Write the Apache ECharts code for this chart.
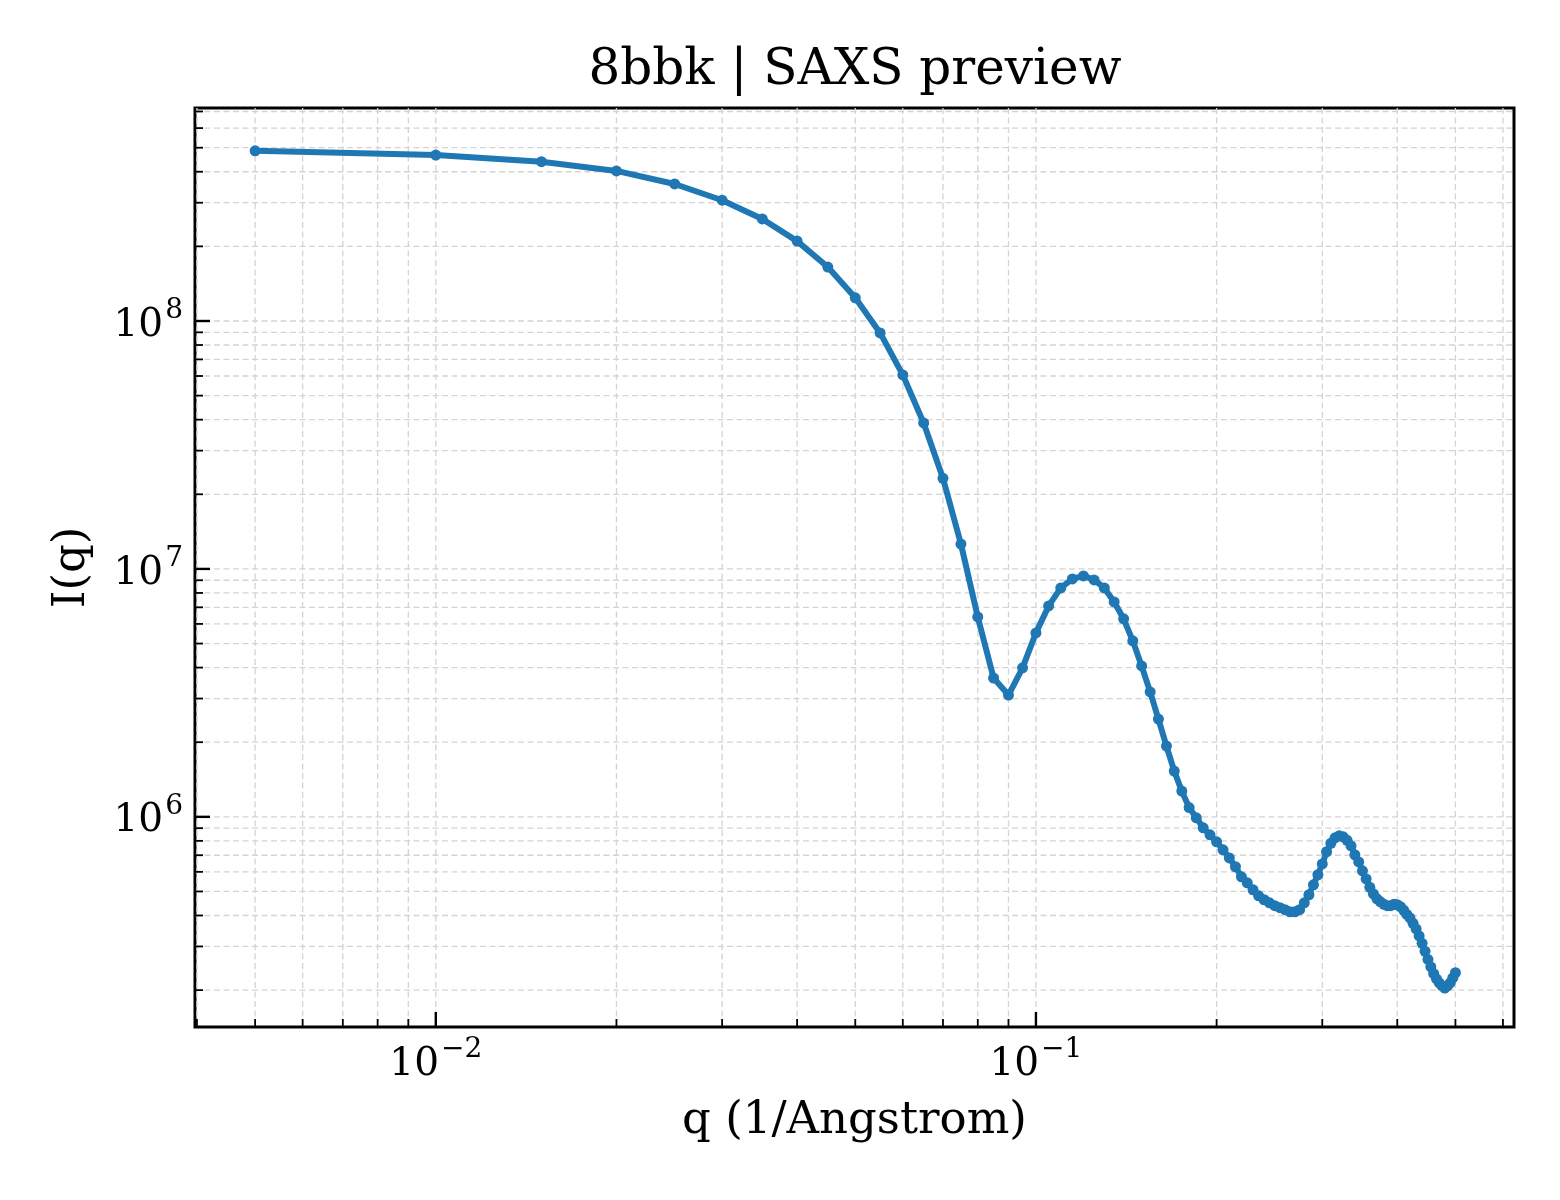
<!DOCTYPE html>
<html>
<head>
<meta charset="utf-8">
<script src="https://cdn.jsdelivr.net/npm/echarts@6/dist/echarts.min.js"></script>
<style>
html,body{margin:0;padding:0;background:#fff;}
#chart{width:1560px;height:1200px;}
</style>
</head>
<body>
<div id="chart"></div>
<script>
// q values (1/Angstrom)
const Q = [0.005,0.01,0.015,0.02,0.025,0.03,0.035,0.04,0.045,0.05,
0.055,0.06,0.065,0.07,0.075,0.08,0.085,0.09,0.095,0.1,
0.105,0.11,0.115,0.12,0.125,0.13,0.135,0.14,0.145,0.15,
0.155,0.16,0.165,0.17,0.175,0.18,0.185,0.19,0.195,0.2,
0.205,0.21,0.215,0.22,0.225,0.23,0.235,0.24,0.245,0.25,
0.255,0.26,0.265,0.27,0.275,0.28,0.285,0.29,0.295,0.3,
0.305,0.31,0.315,0.32,0.325,0.33,0.335,0.34,0.345,0.35,
0.355,0.36,0.365,0.37,0.375,0.38,0.385,0.39,0.395,0.4,
0.405,0.41,0.415,0.42,0.425,0.43,0.435,0.44,0.445,0.45,
0.455,0.46,0.465,0.47,0.475,0.48,0.485,0.49,0.495,0.5];
// I(q) values
const I_VALUES = [4.86e8,4.67e8,4.39e8,4.03e8,3.57e8,3.07e8,2.58e8,2.10e8,1.65e8,1.24e8,
8.95e7,6.06e7,3.88e7,2.32e7,1.26e7,6.40e6,3.63e6,3.10e6,3.99e6,5.52e6,
7.09e6,8.38e6,9.11e6,9.37e6,9.03e6,8.38e6,7.36e6,6.29e6,5.13e6,4.06e6,
3.19e6,2.48e6,1.93e6,1.53e6,1.27e6,1.09e6,9.91e5,9.03e5,8.46e5,7.93e5,
7.36e5,6.83e5,6.29e5,5.73e5,5.42e5,5.08e5,4.80e5,4.63e5,4.50e5,4.38e5,
4.30e5,4.22e5,4.14e5,4.14e5,4.22e5,4.50e5,4.85e5,5.32e5,5.84e5,6.46e5,
7.23e5,7.82e5,8.23e5,8.38e5,8.31e5,8.04e5,7.64e5,7.03e5,6.58e5,6.06e5,
5.62e5,5.20e5,4.89e5,4.67e5,4.54e5,4.44e5,4.38e5,4.38e5,4.44e5,4.42e5,
4.34e5,4.20e5,4.04e5,3.91e5,3.72e5,3.53e5,3.31e5,3.09e5,2.87e5,2.66e5,
2.48e5,2.33e5,2.22e5,2.14e5,2.08e5,2.04e5,2.08e5,2.14e5,2.24e5,2.35e5];

// axis ranges and ticks
const X_MIN = 0.00397, X_MAX = 0.626;
const Y_MIN = 1.42e5, Y_MAX = 7.23e8;
const X_MAJOR = [0.01, 0.1];
const X_MINOR = [0.004,0.005,0.006,0.007,0.008,0.009,
  0.02,0.03,0.04,0.05,0.06,0.07,0.08,0.09,
  0.2,0.3,0.4,0.5,0.6];
const Y_MAJOR = [1e6, 1e7, 1e8];
const Y_MINOR = [2e5,3e5,4e5,5e5,6e5,7e5,8e5,9e5,
  2e6,3e6,4e6,5e6,6e6,7e6,8e6,9e6,
  2e7,3e7,4e7,5e7,6e7,7e7,8e7,9e7,
  2e8,3e8,4e8,5e8,6e8,7e8];

const FONT = 'DejaVu Serif';
const LINE_COLOR = '#1f77b4';
const GRID_COLOR = '#d4d4d4';

const gridItems = [];
X_MINOR.forEach(v => gridItems.push([v, Y_MIN, 0]));
X_MAJOR.forEach(v => gridItems.push([v, Y_MIN, 1]));
Y_MINOR.forEach(v => gridItems.push([X_MIN, v, 2]));
Y_MAJOR.forEach(v => gridItems.push([X_MIN, v, 3]));

function powLabel(v) {
  const e = Math.round(Math.log10(v));
  const s = e < 0 ? '\u2212' + (-e) : String(e);
  return '{b|10}{s|' + s + '}';
}
const richLabel = {
  b: {fontFamily: FONT, fontSize: 39, color: '#000', lineHeight: 48, verticalAlign: 'bottom'},
  s: {fontFamily: FONT, fontSize: 28, color: '#000', lineHeight: 48, verticalAlign: 'top', padding: [0,0,0,2]}
};

const chart = echarts.init(document.getElementById('chart'), null, {renderer: 'canvas'});
chart.setOption({
  animation: false,
  backgroundColor: '#fff',
  title: {
    text: '8bbk | SAXS preview',
    left: 855, top: 46, textAlign: 'center', padding: 0,
    textStyle: {fontFamily: FONT, fontSize: 50, fontWeight: 'normal', color: '#000'}
  },
  grid: {left: 195, right: 46, top: 108, bottom: 173, show: true,
    borderColor: '#000', borderWidth: 3, backgroundColor: 'transparent'},
  xAxis: {
    type: 'log', logBase: 10, min: X_MIN, max: X_MAX,
    name: 'q (1/Angstrom)', nameLocation: 'middle', nameGap: 72,
    nameTextStyle: {fontFamily: FONT, fontSize: 45, color: '#000'},
    axisLine: {show: false},
    axisTick: {show: false},
    splitLine: {show: false},
    axisLabel: {customValues: X_MAJOR, margin: 9, formatter: powLabel, rich: richLabel,
      fontFamily: FONT, fontSize: 39, color: '#000'}
  },
  yAxis: {
    type: 'log', logBase: 10, min: Y_MIN, max: Y_MAX,
    name: 'I(q)', nameLocation: 'middle', nameGap: 100, nameRotate: 90,
    nameTextStyle: {fontFamily: FONT, fontSize: 45, color: '#000'},
    axisLine: {show: false},
    axisTick: {show: false},
    splitLine: {show: false},
    axisLabel: {customValues: Y_MAJOR, margin: 12, formatter: powLabel, rich: richLabel,
      fontFamily: FONT, fontSize: 39, color: '#000'}
  },
  series: [
    {
      type: 'custom',
      silent: true,
      z: 1,
      clip: false,
      data: gridItems,
      encode: {x: 0, y: 1},
      renderItem: function (params, api) {
        const cs = params.coordSys;
        const kind = api.value(2);
        const children = [];
        if (kind < 2) {
          const px = api.coord([api.value(0), Y_MIN])[0];
          const b = cs.y + cs.height;
          children.push({type: 'line', shape: {x1: px, y1: cs.y, x2: px, y2: b},
            style: {stroke: GRID_COLOR, lineWidth: 1.3, lineDash: [6, 3.5]}});
          const len = kind === 1 ? 15 : 8;
          children.push({type: 'line', shape: {x1: px, y1: b, x2: px, y2: b - len},
            style: {stroke: '#000', lineWidth: kind === 1 ? 2.4 : 1.8}});
        } else {
          const py = api.coord([X_MIN, api.value(1)])[1];
          children.push({type: 'line', shape: {x1: cs.x, y1: py, x2: cs.x + cs.width, y2: py},
            style: {stroke: GRID_COLOR, lineWidth: 1.3, lineDash: [6, 3.5]}});
          const len = kind === 3 ? 15 : 8;
          children.push({type: 'line', shape: {x1: cs.x, y1: py, x2: cs.x + len, y2: py},
            style: {stroke: '#000', lineWidth: kind === 3 ? 2.4 : 1.8}});
        }
        return {type: 'group', children: children};
      }
    },
    {
      type: 'line',
      z: 3,
      data: Q.map((q, i) => [q, I_VALUES[i]]),
      symbol: 'circle',
      symbolSize: 11,
      showSymbol: true,
      lineStyle: {color: LINE_COLOR, width: 6},
      itemStyle: {color: LINE_COLOR},
      emphasis: {disabled: true}
    }
  ]
});
</script>
</body>
</html>
